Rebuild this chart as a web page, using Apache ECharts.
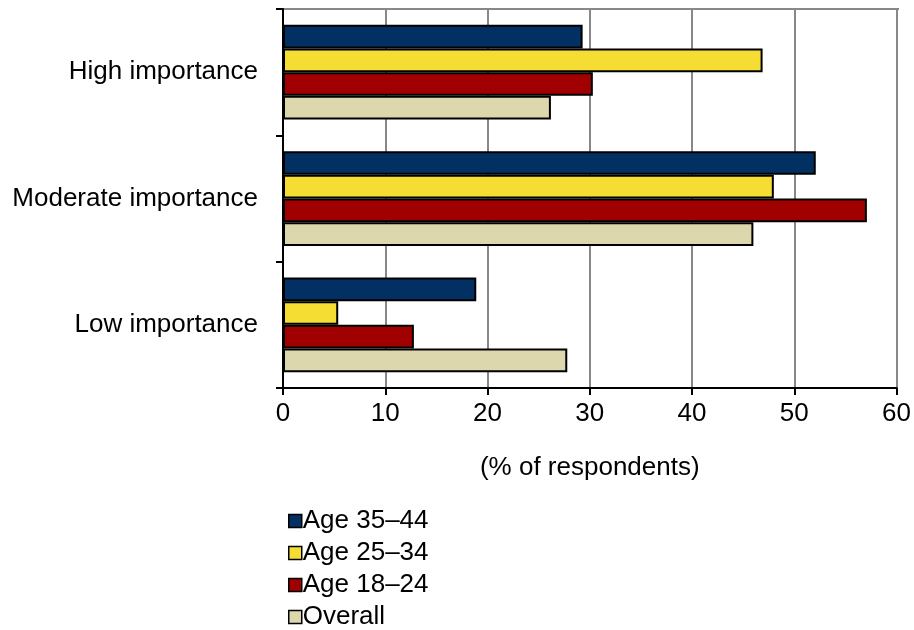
<!DOCTYPE html>
<html>
<head>
<meta charset="utf-8">
<script src="https://cdn.jsdelivr.net/npm/echarts@6/dist/echarts.min.js"></script>
<style>html,body{margin:0;padding:0;background:#fff}#c{width:914px;height:630px}</style>
</head>
<body>
<div id="c"></div>
<script>
const categories = ['High importance', 'Moderate importance', 'Low importance'];
const seriesNames = ['Age 35\u201344', 'Age 25\u201334', 'Age 18\u201324', 'Overall'];
const age3544 = [29.3, 52.1, 18.9];
const age2534 = [46.9, 48.0, 5.4];
const age1824 = [30.3, 57.1, 12.8];
const overall = [26.2, 46.0, 27.8];
const xTicks = [0, 10, 20, 30, 40, 50, 60];
const colors = ['#033062', '#F6DD34', '#A10000', '#DDD7AD'];
const values = [age3544, age2534, age1824, overall];

const chart = echarts.init(document.getElementById('c'));
const font = 'Liberation Sans, Arial, sans-serif';
const fs = 26;
chart.setOption({
  animation: false,
  textStyle: { fontFamily: font },
  grid: { left: 283, right: 15, top: 9, bottom: 242, containLabel: false },
  legend: {
    orient: 'vertical',
    left: 283,
    top: 503,
    height: 200,
    itemWidth: 13,
    itemHeight: 13,
    itemGap: 6,
    icon: 'rect',
    data: seriesNames,
    textStyle: { fontSize: fs, lineHeight: 26, color: '#000', fontFamily: font, padding: [0, 0, 0, -4] },
    itemStyle: { borderColor: '#000', borderWidth: 1.5 }
  },
  xAxis: {
    type: 'value',
    min: xTicks[0],
    max: xTicks[xTicks.length - 1],
    interval: 10,
    name: '(% of respondents)',
    nameLocation: 'middle',
    nameGap: 67,
    nameTextStyle: { fontSize: fs, color: '#000', fontFamily: font },
    axisLine: { show: true, lineStyle: { color: '#000', width: 2 } },
    axisTick: { show: true, length: 7, lineStyle: { color: '#000', width: 2 } },
    axisLabel: { fontSize: fs, color: '#000', margin: 13, fontFamily: font },
    splitLine: { show: true, lineStyle: { color: '#888', width: 2 } }
  },
  yAxis: {
    type: 'category',
    data: categories,
    inverse: true,
    axisLine: { show: true, lineStyle: { color: '#000', width: 2 } },
    axisTick: { show: true, length: 7, lineStyle: { color: '#000', width: 2 } },
    axisLabel: { fontSize: fs, color: '#000', margin: 25, fontFamily: font, padding: [6, 0, 0, 0] },
    splitLine: { show: false }
  },
  series: seriesNames.map((n, i) => ({
    name: n,
    type: 'bar',
    data: values[i],
    barGap: '0%',
    barCategoryGap: '25%',
    itemStyle: { color: colors[i], borderColor: '#000', borderWidth: 2 }
  }))
});
chart.setOption({
  graphic: [{
    type: 'line',
    shape: { x1: 283, y1: 9, x2: 899, y2: 9 },
    style: { stroke: '#888', lineWidth: 2 }
  }]
});
</script>
</body>
</html>
